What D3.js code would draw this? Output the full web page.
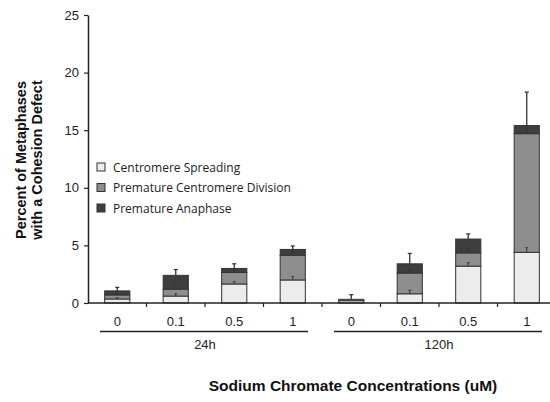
<!DOCTYPE html>
<html>
<head>
<meta charset="utf-8">
<script src="https://cdn.jsdelivr.net/npm/d3@7"></script>
<style>
  body { margin: 0; background: #fff; }
  svg { display: block; }
</style>
</head>
<body>
<svg id="chart" width="550" height="402"></svg>
<script>
// ---- data ----
const concentrations = ["0", "0.1", "0.5", "1", "0", "0.1", "0.5", "1"];
const timeGroups = ["24h", "120h"];
const seriesNames = ["Centromere Spreading", "Premature Centromere Division", "Premature Anaphase"];
const spreading = [0.35, 0.6, 1.65, 2.0, 0.2, 0.8, 3.2, 4.4];
const centromereDivision = [0.35, 0.6, 1.0, 2.15, 0.12, 1.8, 1.15, 10.3];
const anaphase = [0.35, 1.2, 0.35, 0.5, 0.0, 0.8, 1.2, 0.7];
const totalError = [0.3, 0.5, 0.4, 0.3, 0.4, 0.9, 0.45, 2.9];
const spreadingError = [0.1, 0.2, 0.2, 0.3, 0.1, 0.3, 0.3, 0.4];
const divisionError = [0.1, 0.2, 0.2, 0.3, 0.05, 0.3, 0.3, 0.4];
const yTicks = [0, 5, 10, 15, 20, 25];

const colors = ["#ececec", "#8e8e8e", "#3e3e3e"];

const svg = d3.select("#chart");
const idx = d3.range(concentrations.length);

const x = d3.scaleBand().domain(idx).range([88, 556]).paddingInner(0).paddingOuter(0);
const y = d3.scaleLinear().domain([0, 25]).range([303, 15]);
const barW = x.bandwidth() * 0.43;

// stacked data
const rows = idx.map(i => ({ i, s0: spreading[i], s1: centromereDivision[i], s2: anaphase[i] }));
const stack = d3.stack().keys(["s0", "s1", "s2"])(rows);

// bars
const gBars = svg.append("g");
stack.forEach((layer, k) => {
  gBars.selectAll(null).data(layer).enter().append("rect")
    .attr("x", d => x(d.data.i) + x.bandwidth() / 2 - barW / 2)
    .attr("y", d => y(d[1]))
    .attr("width", barW)
    .attr("height", d => Math.max(0, y(d[0]) - y(d[1])))
    .attr("fill", colors[k])
    .attr("stroke", "#333")
    .attr("stroke-width", 1);
});

// error bars helper
function errBar(g, cx, v, e, cap, width) {
  g.append("line").attr("x1", cx).attr("x2", cx).attr("y1", y(v)).attr("y2", y(v + e))
    .attr("stroke", "#333").attr("stroke-width", width);
  g.append("line").attr("x1", cx - cap).attr("x2", cx + cap).attr("y1", y(v + e)).attr("y2", y(v + e))
    .attr("stroke", "#333").attr("stroke-width", width);
}
const gErr = svg.append("g");
idx.forEach(i => {
  const cx = x(i) + x.bandwidth() / 2;
  const tot = spreading[i] + centromereDivision[i] + anaphase[i];
  errBar(gErr, cx, tot, totalError[i], 2, 1.3);
  if (spreading[i] > 0.3) errBar(gErr, cx, spreading[i], spreadingError[i], 1.5, 0.9);
  if (centromereDivision[i] > 0.3) errBar(gErr, cx, spreading[i] + centromereDivision[i], divisionError[i], 1.5, 0.9);
});

// y axis
const yAxis = d3.axisLeft(y).tickValues(yTicks).tickSize(4).tickSizeOuter(0);
const gy = svg.append("g").attr("transform", "translate(88,0)").call(yAxis);
gy.select(".domain").attr("stroke", "#222").attr("stroke-width", 1.5);
gy.selectAll(".tick line").attr("stroke", "#222").attr("stroke-width", 1.2);
gy.selectAll(".tick text").attr("font-family", "Liberation Sans, Arial, sans-serif")
  .attr("font-size", 13).attr("fill", "#222").attr("x", -9);

// x axis line with ticks at band boundaries
const gx = svg.append("g");
gx.append("line").attr("x1", 88).attr("x2", 552).attr("y1", y(0)).attr("y2", y(0))
  .attr("stroke", "#222").attr("stroke-width", 1.5);
gx.selectAll(null).data(idx.slice(1)).enter().append("line")
  .attr("x1", i => x(i)).attr("x2", i => x(i))
  .attr("y1", y(0)).attr("y2", y(0) + 4)
  .attr("stroke", "#222").attr("stroke-width", 1.2);

// concentration labels
gx.selectAll(null).data(idx).enter().append("text")
  .attr("x", i => x(i) + x.bandwidth() / 2)
  .attr("y", 326)
  .attr("text-anchor", "middle")
  .attr("font-family", "Liberation Sans, Arial, sans-serif")
  .attr("font-size", 13).attr("fill", "#222")
  .text(i => concentrations[i]);

// group lines and labels
timeGroups.forEach((g, k) => {
  const first = x(k * 4), last = x(k * 4 + 3) + x.bandwidth();
  gx.append("line").attr("x1", first + 12).attr("x2", last - 14)
    .attr("y1", 331.5).attr("y2", 331.5).attr("stroke", "#222").attr("stroke-width", 1.3);
  gx.append("text").attr("x", (first + last) / 2).attr("y", 349)
    .attr("text-anchor", "middle")
    .attr("font-family", "Liberation Sans, Arial, sans-serif")
    .attr("font-size", 13).attr("fill", "#222").text(g);
});

// axis titles
svg.append("text").attr("x", 353).attr("y", 391).attr("text-anchor", "middle")
  .attr("font-family", "Liberation Sans, Arial, sans-serif").attr("font-weight", "bold")
  .attr("font-size", 15.5).attr("fill", "#111").text("Sodium Chromate Concentrations (uM)");

const yt = svg.append("text").attr("transform", "translate(0,160) rotate(-90)")
  .attr("text-anchor", "middle")
  .attr("font-family", "Liberation Sans, Arial, sans-serif").attr("font-weight", "bold")
  .attr("font-size", 14.5).attr("fill", "#111");
yt.append("tspan").attr("x", 0).attr("y", 26).text("Percent of Metaphases");
yt.append("tspan").attr("x", 0).attr("y", 42).text("with a Cohesion Defect");

// legend
const lg = svg.append("g").attr("transform", "translate(97,167)");
seriesNames.forEach((n, k) => {
  const row = lg.append("g").attr("transform", `translate(0,${k * 20.5})`);
  row.append("rect").attr("x", 0).attr("y", -4).attr("width", 8).attr("height", 8)
    .attr("fill", colors[k]).attr("stroke", "#333").attr("stroke-width", 1);
  row.append("text").attr("x", 16).attr("y", 4.5)
    .attr("font-family", "Open Sans, sans-serif").attr("font-size", 12).attr("fill", "#222")
    .text(n);
});
</script>
</body>
</html>
